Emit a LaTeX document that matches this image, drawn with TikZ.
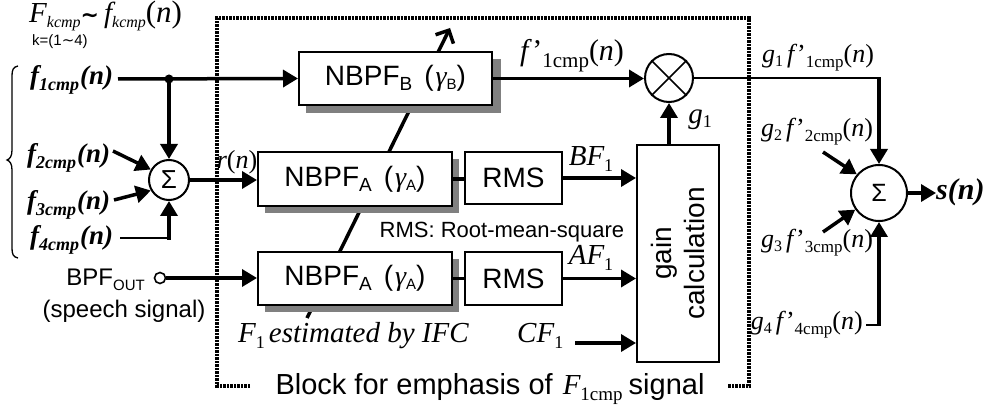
\documentclass[tikz,border=0pt]{standalone}
\usepackage{fontspec}
\setmainfont{Liberation Serif}
\setsansfont{Liberation Sans}
\newfontfamily\dvs{DejaVu Sans}
\usetikzlibrary{arrows.meta}
\newcommand\sbx[3]{\raisebox{-#2}{\fontsize{#1}{#1}\selectfont #3}}
\newcommand\fsz[1]{\fontsize{#1}{#1}\selectfont}
\newcommand\gfl[1]{\itshape g\sbx{16}{4pt}{\upshape #1}\hspace{4pt}f\hspace{3pt}\upshape'\sbx{17}{5pt}{#1cmp}(\itshape n\upshape)}
\newcommand\fin[1]{f\sbx{18}{6pt}{#1cmp}\hspace{1pt}(n)}
\begin{document}
\begin{tikzpicture}[x=1pt,y=-1pt,
 conn/.style={line width=3.5pt,-{Triangle[length=15pt,width=17pt]}},
 bar/.style={line width=3.5pt},
 thinline/.style={line width=1.6pt},
 blk/.style={draw,line width=2pt,fill=white,inner sep=0pt,font=\sffamily\fsz{28}},
 shd/.style={fill=black!50},
 sumc/.style={circle,draw,line width=2pt,fill=white,inner sep=0pt,font=\sffamily\fsz{26}},
 lbl/.style={inner sep=0pt,font=\rmfamily\itshape\fsz{29}},
 bilbl/.style={inner sep=0pt,font=\rmfamily\bfseries\itshape\fsz{27}},
 rlbl/.style={inner sep=0pt,font=\rmfamily\fsz{26}},
 stxt/.style={inner sep=0pt,font=\sffamily\fsz{24}},
 border/.style={line width=4pt,dash pattern=on 2.5pt off 1pt},
]
\useasboundingbox (0,0) rectangle (983,414);
\fill[white] (0,0) rectangle (983,414);

% dashed block border
\coordinate (bl) at (250,386);
\coordinate (bc) at (217,18);
\coordinate (br) at (749,386);
\coordinate (be) at (728,386);
\draw[border] (bl) -| (bc) -| (br) -- (be);

% variable-filter arrow
\coordinate (ifc) at (307,318);
\coordinate (vtop) at (450,28);
\draw[line width=3.5pt,-{Straight Barb[length=10pt,width=20pt]}] (ifc) -- (vtop);

% shadows
\fill[shd] (306,59) rectangle (501,113);
\fill[shd] (265,159) rectangle (459,213);
\fill[shd] (265,259) rectangle (459,312);

% blocks
\node[blk,minimum width=193pt,minimum height=53pt] (nbpfb) at (395.5,78.5) {NBPF\sbx{19}{5pt}{B}\hspace{12pt}(\hspace{2pt}{\rmfamily\itshape γ}\sbx{15}{4pt}{B})};
\node[blk,minimum width=194pt,minimum height=54pt] (nbpfa1) at (355,179) {NBPF\sbx{19}{5pt}{A}\hspace{12pt}(\hspace{2pt}{\rmfamily\itshape γ}\sbx{15}{4pt}{A})};
\node[blk,minimum width=194pt,minimum height=53pt] (nbpfa2) at (355,278.5) {NBPF\sbx{19}{5pt}{A}\hspace{12pt}(\hspace{2pt}{\rmfamily\itshape γ}\sbx{15}{4pt}{A})};
\node[blk,minimum width=97pt,minimum height=52pt] (rms1) at (513.5,178) {RMS};
\node[blk,minimum width=97pt,minimum height=53pt] (rms2) at (513.5,278.5) {RMS};
\node[blk,minimum width=82pt,minimum height=217pt] (gain) at (678,253.5) {};
\node[inner sep=0pt,rotate=90,align=center,font=\sffamily\fontsize{28}{33}\selectfont] (gaintxt) at (gain.center) {gain\\calculation};

\node[sumc,minimum size=40pt] (s1) at (169,180) {Σ};
\node[sumc,minimum size=48pt] (mult) at (669,78) {};
\node[sumc,minimum size=56pt,font=\sffamily\fsz{25}] (s2) at (879,193) {Σ};
\node[circle,draw,line width=1.6pt,fill=white,inner sep=0pt,minimum size=11pt] (bpo) at (160,278) {};

% labels
\node[lbl,anchor=west] (fk) at (29,16) {F\sbx{16}{5pt}{kcmp}{\dvs\upshape\bfseries\fsz{22}∼}\hspace{5pt}f\sbx{16}{5pt}{kcmp}\upshape\fsz{31}(\itshape n\upshape)};
\node[stxt,font=\sffamily\fsz{15},anchor=west] (krange) at (32,42) {k=(1{\dvs ∼}4)};
\node[bilbl,anchor=west] (f1) at (30,80) {\fin{1}};
\node[bilbl,anchor=west] (f2) at (27,158) {\fin{2}};
\node[bilbl,anchor=west] (f3) at (27,205) {\fin{3}};
\node[bilbl,anchor=west] (f4) at (30,240) {\fin{4}};
\node[rlbl] (rn) at (237,162) {\itshape r\upshape(\itshape n\upshape)};
\node[stxt,anchor=east] (bpf) at (145,280) {BPF\sbx{15}{5pt}{OUT}};
\node[stxt] (speech) at (124,311) {(speech signal)};
\node[stxt,font=\sffamily\fsz{22}] (rmsnote) at (502,232) {RMS: Root-mean-square};
\node[lbl,anchor=west] (ifclbl) at (238,336) {F\sbx{18}{6pt}{\upshape 1}\hspace{4pt}estimated by IFC};
\node[lbl,anchor=west] (cf) at (517,336) {CF\sbx{18}{6pt}{\upshape 1}};
\node[lbl] (bf) at (591,159) {BF\sbx{18}{6pt}{\upshape 1}};
\node[lbl] (af) at (591,258) {AF\sbx{18}{6pt}{\upshape 1}};
\node[lbl] (g1) at (700,120) {g\sbx{18}{4pt}{\upshape 1}};
\node[rlbl,font=\rmfamily\fsz{30}] (fp1) at (572,56) {\itshape f\hspace{4pt}\upshape'\sbx{21}{7pt}{1cmp}(\itshape n\upshape)};
\node[rlbl] (g1f) at (818,58) {\gfl{1}};
\node[rlbl] (g2f) at (817,132) {\gfl{2}};
\node[rlbl] (g3f) at (817,243) {\gfl{3}};
\node[rlbl,anchor=east] (g4f) at (863,325) {\gfl{4}};
\node[bilbl,anchor=west,font=\rmfamily\bfseries\itshape\fsz{30}] (sn) at (936,192) {s(n)};
\node[stxt,font=\sffamily\fsz{29}] (blocklbl) at (490,389) {Block for emphasis of\hspace{10pt}{\rmfamily\itshape F\sbx{19}{6pt}{\upshape 1cmp}}\hspace{6pt}signal};

% connector end points
\coordinate (f1e) at (118,79);
\coordinate (f2e) at (113,151);
\coordinate (f3e) at (114,200);
\coordinate (f4e) at (120,238);
\coordinate (j1) at (169,79);
\coordinate (cfe) at (575,343);
\coordinate (g2s) at (823,152);
\coordinate (g3s) at (823,232);
\coordinate (g4e) at (866,325);
\coordinate (sne) at (936,193);

% brace
\draw[line width=1.3pt] (18,66) .. controls (13,67) and (12,70) .. (12,76) -- (12,150) .. controls (12,156) and (10,159) .. (7,160) .. controls (10,161) and (12,164) .. (12,170) -- (12,248) .. controls (12,254) and (13,257) .. (18,258);

% connectors
\draw[conn] (f1e) -- (nbpfb.west);
\fill (j1) circle (4.5pt);
\draw[conn] (j1) -- (s1.north);
\draw[conn] (f2e) -- (s1.150);
\draw[conn] (f3e) -- (s1.210);
\draw[thinline] (f4e) -- (f4e -| s1.south);
\draw[conn] ([yshift=-1.7pt]f4e -| s1.south) -- (s1.south);
\draw[conn] (s1.east) -- (s1.east -| nbpfa1.west);
\draw[conn] (bpo.east) -- (bpo.east -| nbpfa2.west);
\draw[bar] (nbpfa1.east) -- (nbpfa1.east -| rms1.west);
\draw[bar] (nbpfa2.east) -- (nbpfa2.east -| rms2.west);
\draw[conn] (rms1.east) -- (rms1.east -| gain.west);
\draw[conn] (rms2.east) -- (rms2.east -| gain.west);
\draw[conn] (cfe) -- (cfe -| gain.west);
\draw[conn] (mult.south |- gain.north) -- (mult.south);
\draw[conn] (nbpfb.east) -- (nbpfb.east -| mult.west);
\draw[line width=1.6pt] (mult.45) -- (mult.225) (mult.135) -- (mult.315);
\draw[thinline] (mult.east) -- (mult.east -| s2.north);
\draw[conn] ([yshift=0.8pt]mult.east -| s2.north) -- (s2.north);
\draw[conn] (g2s) -- (s2.140);
\draw[conn] (g3s) -- (s2.215);
\draw[thinline] (g4e) -- (g4e -| s2.south);
\draw[conn] ([yshift=-0.8pt]g4e -| s2.south) -- (s2.south);
\draw[conn] (s2.east) -- (sne);
\end{tikzpicture}
\end{document}
